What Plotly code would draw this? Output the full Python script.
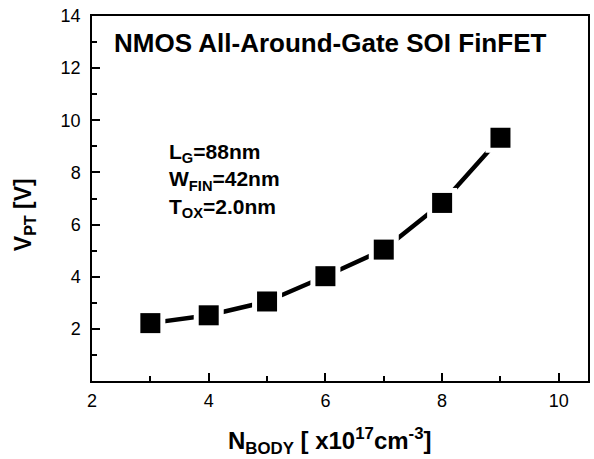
import plotly.graph_objects as go

n_body = [3, 4, 5, 6, 7, 8, 9]
v_pt = [2.22, 2.52, 3.05, 4.02, 5.04, 6.83, 9.33]

x_ticks = [2, 4, 6, 8, 10]
y_ticks = [2, 4, 6, 8, 10, 12, 14]

FONT = "Liberation Sans, Arial, sans-serif"

fig = go.Figure()
fig.add_trace(go.Scatter(x=n_body, y=v_pt, mode="lines",
                         line=dict(color="black", width=4.5), showlegend=False))
fig.add_trace(go.Scatter(x=n_body, y=v_pt, mode="markers",
                         marker=dict(symbol="square", size=30, color="white"), showlegend=False))
fig.add_trace(go.Scatter(x=n_body, y=v_pt, mode="markers",
                         marker=dict(symbol="square", size=20, color="black"), showlegend=False))

axis_common = dict(
    showgrid=False, zeroline=False, showline=True, linecolor="black", linewidth=1.5,
    mirror=True, ticks="inside", ticklen=8, tickwidth=1.5, tickcolor="black",
    tickfont=dict(family=FONT, size=18, color="black"),
    minor=dict(ticks="inside", ticklen=5, tickwidth=1.5, tickcolor="black", dtick=1),
)

fig.update_xaxes(range=[2, 10.5], tickvals=x_ticks, ticklabelstandoff=3, **axis_common)
fig.update_yaxes(range=[0, 14], tickvals=y_ticks, ticklabelstandoff=6, **axis_common)

fig.update_layout(
    width=594, height=459,
    margin=dict(l=92, r=4, t=16, b=78),
    paper_bgcolor="white", plot_bgcolor="white",
    font=dict(family=FONT, color="black"),
)
fig.add_annotation(text="<b>NMOS All-Around-Gate SOI FinFET</b>", xref="paper", yref="paper",
                   x=0.040, y=0.927, xanchor="left", yanchor="middle", showarrow=False,
                   font=dict(size=26, family=FONT))
fig.add_annotation(text="<b>L<sub>G</sub>=88nm<br>W<sub>FIN</sub>=42nm<br>T<sub>OX</sub>=2.0nm</b>",
                   xref="paper", yref="paper", x=0.152, y=0.548, xanchor="left", yanchor="middle",
                   align="left", showarrow=False, font=dict(size=21, family=FONT))
fig.add_annotation(text="<b>V<sub>PT</sub> [V]</b>", xref="paper", yref="paper",
                   x=-0.1345, y=0.455, xanchor="center", yanchor="middle", textangle=-90,
                   showarrow=False, font=dict(size=23, family=FONT))
fig.add_annotation(text="<b>N<sub>BODY</sub> [ x10<sup>17</sup>cm<sup>-3</sup>]</b>", xref="paper", yref="paper",
                   x=0.478, y=-0.164, xanchor="center", yanchor="middle",
                   showarrow=False, font=dict(size=24, family=FONT))

fig.write_html("out.html", config={"displayModeBar": False},
               post_script="document.body.style.margin='0';")
